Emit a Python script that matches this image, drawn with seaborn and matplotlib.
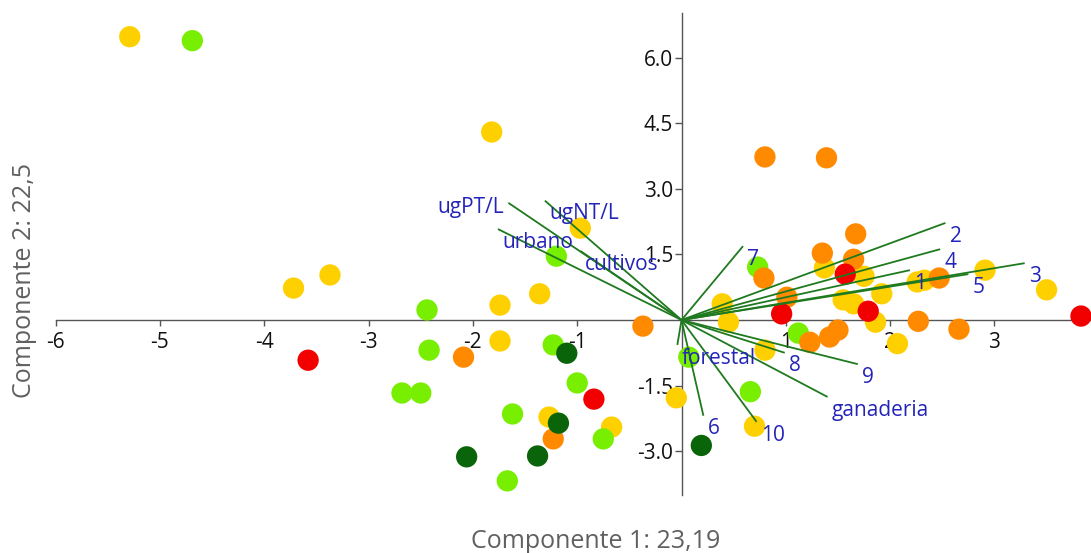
import matplotlib
matplotlib.use("Agg")
import matplotlib.pyplot as plt
import seaborn as sns
import pandas as pd

# Sample scores on the first two principal components, grouped by class
class_iii_x = [-5.29, -1.82, -0.97, 1.37, 1.75, 1.92, 1.55, 1.65, 1.86, 0.39, 0.45, 0.80, 2.07,
               3.50, 2.91, 2.26, 2.33, -0.05, 0.70, -3.72, -3.37, -1.74, -1.36, -1.74, -1.27, -0.67]
class_iii_y = [6.48, 4.30, 2.10, 1.19, 1.00, 0.60, 0.46, 0.37, -0.05, 0.37, -0.05, -0.69, -0.54,
               0.69, 1.14, 0.87, 0.91, -1.78, -2.43, 0.73, 1.03, 0.34, 0.60, -0.48, -2.22, -2.45]

class_ii_x = [-4.69, -1.20, 0.73, 1.12, 0.07, 0.66, -2.44, -2.42, -1.23, -2.68, -2.50, -1.00,
              -1.62, -0.75, -1.67]
class_ii_y = [6.39, 1.46, 1.21, -0.30, -0.85, -1.64, 0.23, -0.69, -0.57, -1.67, -1.67, -1.44,
              -2.15, -2.72, -3.68]

class_iv_x = [0.80, 1.39, 0.79, 1.67, 1.35, 1.65, 1.01, 1.23, 1.42, 1.50, 2.27, 2.66, 2.47,
              -0.37, -2.09, -1.23]
class_iv_y = [3.73, 3.71, 0.96, 1.97, 1.53, 1.39, 0.52, -0.51, -0.39, -0.23, -0.03, -0.21, 0.96,
              -0.14, -0.85, -2.72]

class_v_x = [1.57, 1.79, 0.96, 3.83, -3.58, -0.84]
class_v_y = [1.05, 0.20, 0.14, 0.09, -0.92, -1.81]

class_i_x = [-1.10, -1.18, -2.06, -1.38, 0.19]
class_i_y = [-0.76, -2.36, -3.13, -3.11, -2.87]

# Variable loadings (biplot vectors)
var_names = ["ugPT/L", "ugNT/L", "urbano", "cultivos", "forestal", "ganaderia",
             "1", "2", "3", "4", "5", "6", "7", "8", "9", "10"]
load_x = [-1.66, -1.31, -1.76, -0.97, -0.04, 1.40, 2.19, 2.53, 3.29, 2.48, 2.75,
          0.21, 0.59, 0.99, 1.69, 0.72]
load_y = [2.68, 2.73, 2.08, 1.58, -0.57, -1.76, 1.14, 2.22, 1.30, 1.62, 1.05,
          -2.19, 1.69, -0.75, -1.01, -2.33]

x_ticks = [-6, -5, -4, -3, -2, -1, 1, 2, 3]
y_ticks = [-3.0, -1.5, 1.5, 3.0, 4.5, 6.0]

x_title = "Componente 1: 23,19"
y_title = "Componente 2: 22,5"

palette = {"III": "#FFD000", "II": "#78EE00", "IV": "#FF8A00", "V": "#F20000", "I": "#0A640A"}

frames = []
for cls, xs, ys in [("III", class_iii_x, class_iii_y), ("II", class_ii_x, class_ii_y),
                    ("IV", class_iv_x, class_iv_y), ("V", class_v_x, class_v_y),
                    ("I", class_i_x, class_i_y)]:
    frames.append(pd.DataFrame({"pc1": xs, "pc2": ys, "clase": cls}))
scores = pd.concat(frames, ignore_index=True)

sns.set_theme(style="white")
plt.rcParams["font.family"] = ["Open Sans", "DejaVu Sans"]

fig = plt.figure(figsize=(10.91, 5.53), dpi=100)
ax = fig.add_axes([0, 0, 1, 1])
ax.set_xlim(-6.534, 3.926)
ax.set_ylim(-5.33, 7.32)

sns.scatterplot(data=scores, x="pc1", y="pc2", hue="clase", palette=palette,
                s=235, linewidth=0, alpha=1.0, legend=False, ax=ax, zorder=1)

# Loading vectors and their labels
line_col = "#1f7a1f"
text_col = "#2424b8"
for name, lx, ly in zip(var_names, load_x, load_y):
    ax.plot([0, lx], [0, ly], color=line_col, lw=1.3, zorder=2, solid_capstyle="butt")
    if name == "ugPT/L":
        off, ha = (-3, -3), "right"
    else:
        off, ha = (3, -9.5), "left"
    ax.annotate(name, (lx, ly), xytext=off, textcoords="offset points",
                ha=ha, va="center", color=text_col, fontsize=15, zorder=3)

# Axes crossing at the origin
for side in ["top", "right"]:
    ax.spines[side].set_visible(False)
ax.spines["left"].set_position(("data", 0))
ax.spines["bottom"].set_position(("data", 0))
ax.spines["bottom"].set_bounds(-6, 3.926)
ax.spines["left"].set_bounds(-4.0, 7.02)
for side in ["left", "bottom"]:
    ax.spines[side].set_color("#555555")
    ax.spines[side].set_linewidth(1.0)
    ax.spines[side].set_zorder(0.4)
ax.set_axisbelow(True)

ax.set_xticks(x_ticks)
ax.set_xticklabels([f"{t:d}" for t in x_ticks])
ax.set_yticks(y_ticks)
ax.set_yticklabels([f"{t:.1f}" for t in y_ticks])
ax.tick_params(axis="x", direction="out", length=4, width=1, color="#555555",
               labelsize=15, labelcolor="#111111", pad=5, bottom=True)
ax.tick_params(axis="y", direction="out", length=5, width=1, color="#555555",
               labelsize=15, labelcolor="#111111", pad=1, left=True)
ax.set_xlabel("")
ax.set_ylabel("")
ax.patch.set_visible(False)

fig.text(596 / 1091, 1 - 541 / 553, x_title, ha="center", va="center",
         fontsize=18, color="#606060")
fig.text(25 / 1091, 1 - 281 / 553, y_title, ha="center", va="center",
         rotation=90, fontsize=18, color="#606060")

fig.savefig("out.png", dpi=100, facecolor="white")
